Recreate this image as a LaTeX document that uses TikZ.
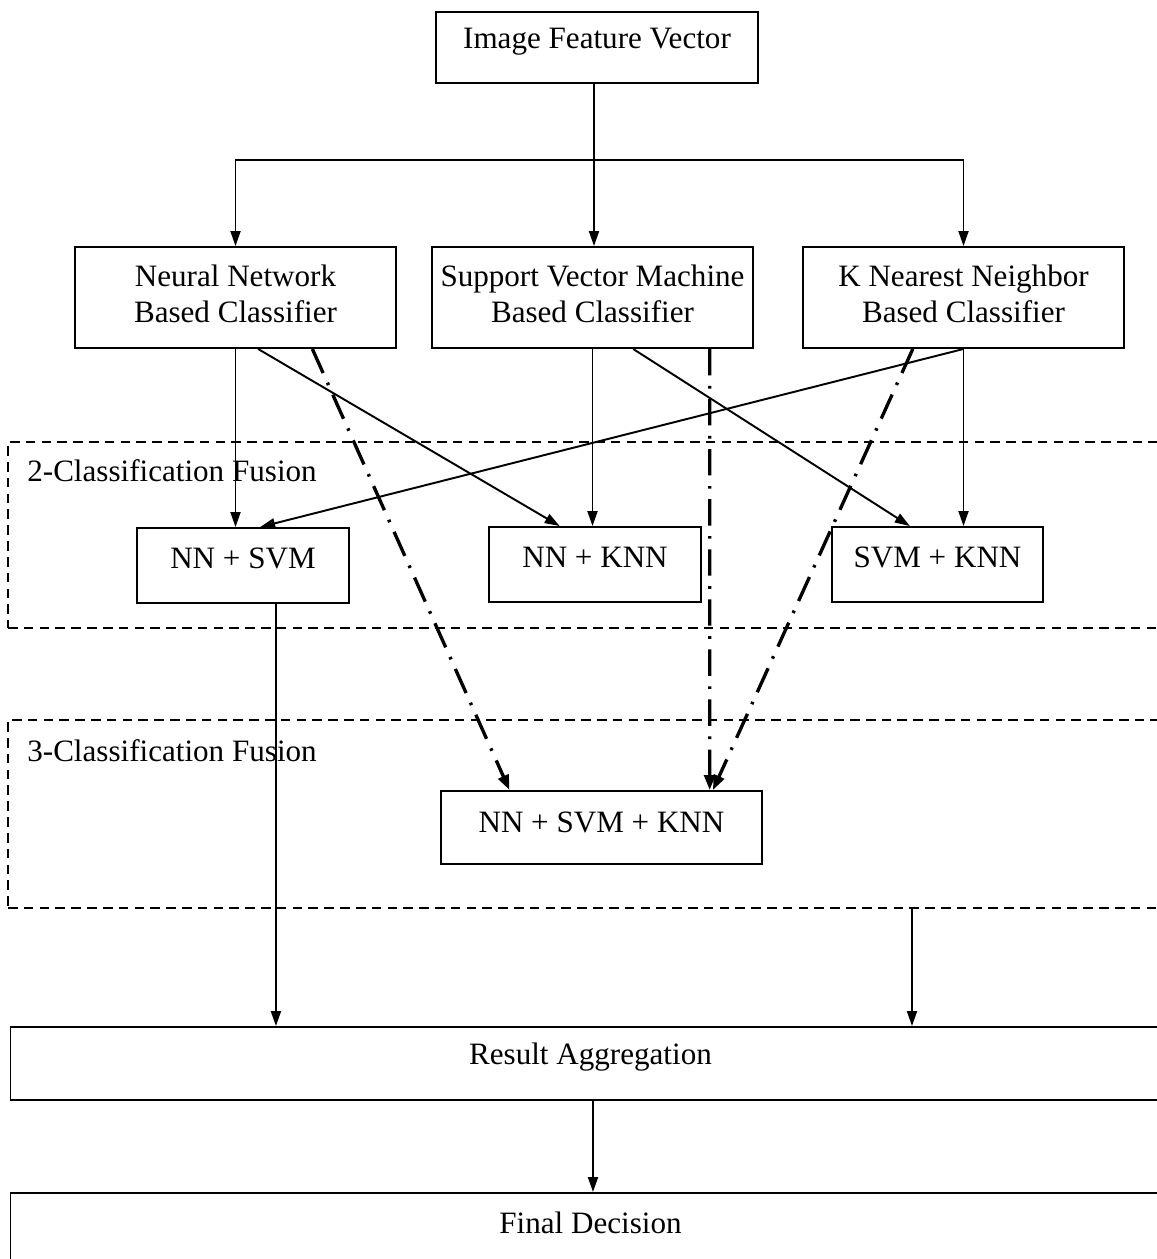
\documentclass[tikz,border=0pt]{standalone}
\usepackage{fontspec}
\setmainfont{Liberation Serif}
\usetikzlibrary{arrows.meta,calc}
\newcommand{\uptext}[2]{\raisebox{#1}[\height][\depth]{#2}}
\newcommand{\twolines}[2]{{\fontsize{17.7}{20}\selectfont\begin{tabular}{@{}c@{}}#1\\#2\end{tabular}}}
\begin{document}
\begin{tikzpicture}[x=0.02cm,y=-0.02cm,
  box/.style={draw, line width=1.1pt, inner sep=0pt, align=center, font=\fontsize{17.7}{21.5}\selectfont},
  fusionbox/.style={draw, dash pattern=on 5.5pt off 3.5pt, line width=1pt, inner sep=0pt},
  fusionlabel/.style={anchor=west, inner sep=0pt, font=\fontsize{17.7}{21.5}\selectfont},
  arr/.style={line width=1.1pt, -{Triangle[length=0.3cm,width=0.2cm]}},
  dd/.style={line width=1.9pt, dash pattern=on 15pt off 6pt on 1.5pt off 6pt, -{Triangle[length=0.3cm,width=0.22cm]}}]
\useasboundingbox (0,0) rectangle (1157,1259);
\clip (0,0) rectangle (1157,1259);
% fusion regions
\node[fusionbox, minimum width=1162*0.02cm, minimum height=186*0.02cm] (fusion2) at (589,535) {};
\node[fusionbox, minimum width=1162*0.02cm, minimum height=188*0.02cm] (fusion3) at (589,814) {};
\node[fusionlabel] (lab2) at (27,471) {2-Classification Fusion};
\node[fusionlabel] (lab3) at (27,751) {3-Classification Fusion};
% boxes
\node[box, minimum width=322*0.02cm, minimum height=71*0.02cm] (ifv) at (597,47.5) {\uptext{0.11cm}{Image Feature Vector}};
\node[box, minimum width=321*0.02cm, minimum height=101*0.02cm] (nn) at (235.5,297.5) {\twolines{Neural Network}{Based Classifier}};
\node[box, minimum width=321*0.02cm, minimum height=101*0.02cm] (svm) at (592.5,297.5) {\twolines{Support Vector Machine}{Based Classifier}};
\node[box, minimum width=321*0.02cm, minimum height=101*0.02cm] (knn) at (963.5,297.5) {\twolines{K Nearest Neighbor}{Based Classifier}};
\node[box, minimum width=212*0.02cm, minimum height=75*0.02cm] (nnsvm) at (243,565.5) {\uptext{0.15cm}{NN + SVM}};
\node[box, minimum width=212*0.02cm, minimum height=75*0.02cm] (nnknn) at (595,564.5) {\uptext{0.15cm}{NN + KNN}};
\node[box, minimum width=211*0.02cm, minimum height=75*0.02cm] (svmknn) at (937.5,564.5) {\uptext{0.15cm}{SVM + KNN}};
\node[box, minimum width=321*0.02cm, minimum height=73*0.02cm] (all3) at (601.5,827.5) {\uptext{0.11cm}{NN + SVM + KNN}};
\node[box, minimum width=1160*0.02cm, minimum height=73*0.02cm] (result) at (590.5,1063.5) {\uptext{0.13cm}{Result Aggregation}};
\node[box, anchor=north, minimum width=1160*0.02cm, text height=0.82cm, text depth=1.6cm] (final) at (590.5,1192) {Final Decision};
% top distribution
\coordinate (split) at (594,160);
\draw[arr] (ifv.south -| split) -- (svm.north -| split);
\draw[arr] (split) -| (nn.north);
\draw[arr] (split) -| (knn.north);
% solid arrows to 2-fusion
\draw[arr] (nn.south) -- (nn.south |- nnsvm.north);
\draw[arr] ($(nn.south west)!0.57!(nn.south east)$) -- ($(nnknn.north west)!0.335!(nnknn.north east)$);
\draw[arr] (svm.south) -- (svm.south |- nnknn.north);
\draw[arr] ($(svm.south west)!0.626!(svm.south east)$) -- ($(svmknn.north west)!0.37!(svmknn.north east)$);
\draw[arr] (knn.south) -- (knn.south |- svmknn.north);
\draw[arr] (knn.south) -- ($(nnsvm.north west)!0.58!(nnsvm.north east)$);
% dash-dot arrows to 3-fusion
\draw[dd] ($(nn.south west)!0.738!(nn.south east)$) -- ($(all3.north west)!0.215!(all3.north east)$);
\draw[dd] ($(svm.south west)!0.863!(svm.south east)$) -- ($(all3.north west)!0.835!(all3.north east)$);
\draw[dd] ($(knn.south west)!0.343!(knn.south east)$) -- ($(all3.north west)!0.845!(all3.north east)$);
% to result
\coordinate (a2) at ($(nnsvm.south west)!0.654!(nnsvm.south east)$);
\draw[arr] (a2) -- (a2 |- result.north);
\coordinate (a3) at (912,908);
\draw[arr] (a3) -- (a3 |- result.north);
\coordinate (a4) at (593,0);
\draw[arr] (result.south -| a4) -- (final.north -| a4);
\end{tikzpicture}
\end{document}
